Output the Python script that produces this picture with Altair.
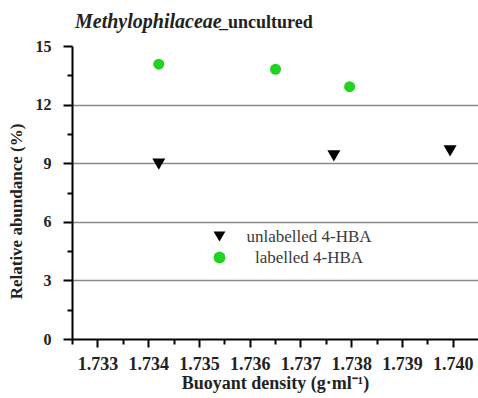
import altair as alt
import pandas as pd

# Data
series_names = ["unlabelled 4-HBA", "labelled 4-HBA"]
unl_density = [1.73421, 1.73766, 1.73995]
unl_abund = [8.95, 9.37, 9.63]
lab_density = [1.73421, 1.73651, 1.73797]
lab_abund = [14.07, 13.81, 12.92]

x_ticks = [1.7325, 1.733, 1.7335, 1.734, 1.7345, 1.735, 1.7355, 1.736, 1.7365,
           1.737, 1.7375, 1.738, 1.7385, 1.739, 1.7395, 1.740]
y_ticks = [0, 1.5, 3, 4.5, 6, 7.5, 9, 10.5, 12, 13.5, 15]

df = pd.DataFrame({
    "density": unl_density + lab_density,
    "abund": unl_abund + lab_abund,
    "series": [series_names[0]] * len(unl_density) + [series_names[1]] * len(lab_density),
})

FONT = "Liberation Serif"
GREEN = "#22d422"
TXT = "#222222"

points = alt.Chart(df).mark_point(filled=True, opacity=1).encode(
    x=alt.X("density:Q",
            scale=alt.Scale(domain=[1.7325, 1.7405], nice=False, zero=False),
            axis=alt.Axis(
                values=x_ticks,
                title="Buoyant density (g·ml⁻¹)",
                format=".3f",
                labelExpr="round(datum.value*10000) % 10 == 0 ? datum.label : ''",
                tickSize={"condition": {"test": "round(datum.value*10000) % 10 == 0", "value": 8}, "value": 5},
                grid=False,
                labelFont=FONT, titleFont=FONT,
                labelFontWeight="bold", titleFontWeight="bold",
                labelColor=TXT, titleColor=TXT,
                labelFontSize=18,
                titleFontSize=18,
                labelPadding=8,
                titlePadding=1,
            )),
    y=alt.Y("abund:Q",
            scale=alt.Scale(domain=[0, 15], nice=False),
            axis=alt.Axis(
                values=y_ticks,
                title="Relative abundance (%)",
                labelExpr="datum.value % 3 == 0 ? datum.label : ''",
                tickSize={"condition": {"test": "datum.value % 3 == 0", "value": 9}, "value": 5},
                grid=True,
                gridOpacity={"condition": {"test": "datum.value % 3 == 0 && datum.value > 0 && datum.value < 15", "value": 1}, "value": 0},
                labelFont=FONT, titleFont=FONT,
                labelFontWeight="bold", titleFontWeight="bold",
                labelColor=TXT, titleColor=TXT,
                labelFontSize=16,
                titleFontSize=17,
                labelPadding=12,
                titlePadding=10,
                titleY=165,
            )),
    color=alt.Color("series:N",
                    scale=alt.Scale(domain=series_names, range=["black", GREEN]),
                    legend=alt.Legend(
                        title=None, orient="none", legendX=139, legendY=182,
                        labelFont=FONT, labelFontSize=17, labelFontWeight="normal",
                        labelColor="#3a3a3a", symbolSize=140, labelOffset=81,
                        labelAlign="center",
                        rowPadding=3, padding=0, symbolStrokeWidth=0,
                    )),
    shape=alt.Shape("series:N",
                    scale=alt.Scale(domain=series_names, range=["triangle-down", "circle"])),
    size=alt.condition(alt.datum.series == series_names[0], alt.value(170), alt.value(121)),
)

title_a = alt.Chart(pd.DataFrame({"t": ["Methylophilaceae"]})).mark_text(
    align="left", baseline="alphabetic", font=FONT, fontSize=20,
    fontStyle="italic", fontWeight="bold", color=TXT
).encode(text="t:N", x=alt.value(3), y=alt.value(-18))

title_b = alt.Chart(pd.DataFrame({"t": ["_uncultured"]})).mark_text(
    align="left", baseline="alphabetic", font=FONT, fontSize=18,
    fontWeight="bold", color=TXT
).encode(text="t:N", x=alt.value(147), y=alt.value(-18))

chart = alt.layer(points, title_a, title_b).properties(
    width=406, height=293,
    autosize=alt.AutoSizeParams(type="none"),
    padding={"left": 72, "top": 46, "right": 0, "bottom": 59},
).configure_view(stroke=None).configure_axis(
    domainColor="black", domainWidth=2, tickColor="black", tickWidth=2,
    gridColor="#8a8a8a", gridWidth=1.5,
)

chart.save("out.html", embed_options={"renderer": "svg", "actions": False})
